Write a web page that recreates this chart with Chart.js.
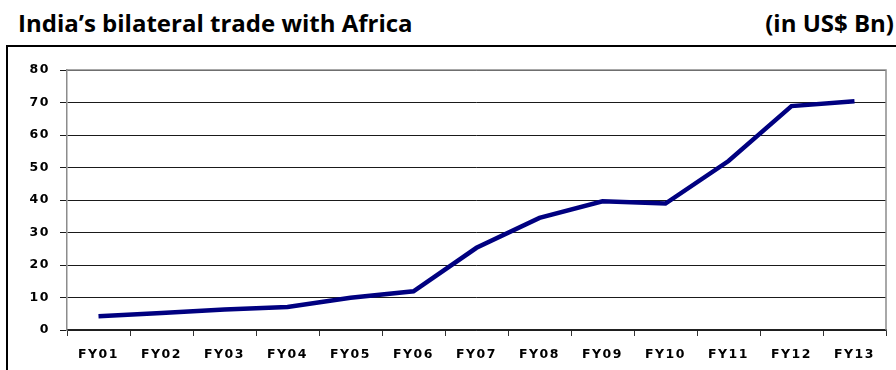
<!DOCTYPE html>
<html>
<head>
<meta charset="utf-8">
<script src="https://cdn.jsdelivr.net/npm/chart.js@4.4.1/dist/chart.umd.min.js"></script>
<style>
    html, body { margin: 0; padding: 0; background: #fff; }
    body { width: 896px; height: 370px; position: relative; overflow: hidden; }
    .title, .unit {
        position: absolute;
        top: 8px;
        font-family: "Open Sans", Lato, sans-serif;
        font-weight: bold;
        font-size: 24px;
        line-height: 30px;
        color: #000;
        white-space: nowrap;
    }
    .title { left: 18px; }
    .unit { right: 2px; }
    .frame {
        position: absolute;
        left: 6px;
        top: 45px;
        width: 900px;
        height: 400px;
        border: 2px solid #000;
    }
    #chart { position: absolute; left: 0; top: 0; }
</style>
</head>
<body>
<div class="title">India’s bilateral trade with Africa</div>
<div class="unit">(in US$ Bn)</div>
<div class="frame"></div>
<canvas id="chart" width="896" height="370"></canvas>
<script>
const years = ['FY01', 'FY02', 'FY03', 'FY04', 'FY05', 'FY06', 'FY07', 'FY08', 'FY09', 'FY10', 'FY11', 'FY12', 'FY13'];
const tradeValues = [4.2, 5.2, 6.3, 7.1, 9.9, 11.9, 25.3, 34.5, 39.6, 38.9, 52.0, 68.9, 70.4];
const yTicks = [0, 10, 20, 30, 40, 50, 60, 70, 80];

const spacedText = {
    id: 'spacedText',
    beforeDraw(chart) {
        chart.ctx.letterSpacing = '1.5px';
    }
};

const plotBorder = {
    id: 'plotBorder',
    afterDatasetsDraw(chart) {
        const { ctx, chartArea } = chart;
        ctx.save();
        ctx.strokeStyle = '#8c8c8c';
        ctx.lineWidth = 1.5;
        ctx.beginPath();
        ctx.moveTo(chartArea.left, chartArea.top);
        ctx.lineTo(chartArea.right, chartArea.top);
        ctx.lineTo(chartArea.right, chartArea.bottom);
        ctx.stroke();
        ctx.restore();
    }
};

const tickFont = { family: '"DejaVu Sans", Verdana, sans-serif', weight: 'bold', size: 12.5 };

new Chart(document.getElementById('chart'), {
    type: 'line',
    data: {
        labels: years,
        datasets: [{
            data: tradeValues,
            borderColor: '#000080',
            borderWidth: 4.5,
            pointRadius: 0,
            tension: 0,
            fill: false
        }]
    },
    options: {
        responsive: false,
        animation: false,
        layout: { padding: { left: 0, right: 10, top: 70, bottom: 0 } },
        plugins: {
            legend: { display: false },
            tooltip: { enabled: false }
        },
        scales: {
            x: {
                offset: true,
                grid: {
                    offset: true,
                    drawOnChartArea: false,
                    drawTicks: true,
                    tickLength: 6,
                    color: '#333'
                },
                border: { display: true, color: '#222', width: 1.5 },
                ticks: {
                    color: '#000',
                    font: tickFont,
                    padding: 11,
                    maxRotation: 0,
                    autoSkip: false
                },
                afterFit: (scale) => { scale.height = 40; }
            },
            y: {
                min: 0,
                max: 80,
                afterBuildTicks: (scale) => {
                    scale.ticks = yTicks.map((value) => ({ value }));
                },
                grid: {
                    color: '#1a1a1a',
                    lineWidth: 1,
                    tickLength: 7
                },
                border: { display: true, color: '#8c8c8c', width: 1.5 },
                ticks: {
                    color: '#000',
                    font: tickFont,
                    padding: 10
                },
                afterFit: (scale) => { scale.width = 67; }
            }
        }
    },
    plugins: [spacedText, plotBorder]
});
</script>
</body>
</html>
